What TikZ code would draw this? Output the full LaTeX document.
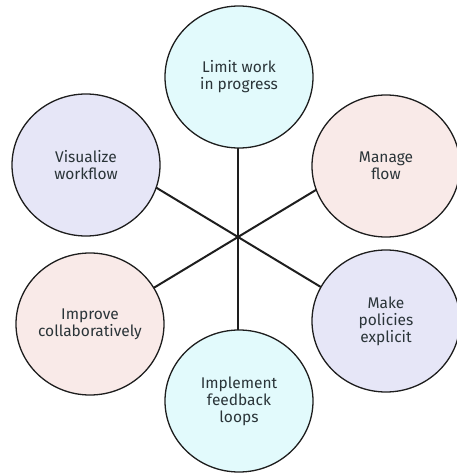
\documentclass[tikz,border=0pt]{standalone}
\usepackage{fontspec}
\setmainfont{Fira Sans}
\usetikzlibrary{shapes.geometric}
\definecolor{cyanfill}{HTML}{E2FAFC}
\definecolor{lavfill}{HTML}{E6E6F7}
\definecolor{pinkfill}{HTML}{F9EAE8}
\definecolor{inkline}{HTML}{1E1E1E}
\definecolor{inktext}{HTML}{2A3438}
\tikzset{
  bubble/.style={ellipse, draw=inkline, line width=1.3pt, minimum width=148pt, minimum height=142pt,
    inner sep=0pt, align=center, text=inktext, font=\fontsize{15.5}{17}\selectfont},
  spoke/.style={draw=inkline, line width=2pt}
}
\begin{document}
\begin{tikzpicture}[x=1pt,y=-1pt]
\useasboundingbox (0,0) rectangle (456,474);
\coordinate (hub) at (238,237);
\coordinate (eTop) at (238,107);
\coordinate (eBot) at (238,367);
\coordinate (eUL) at (127,170);
\coordinate (eUR) at (349,170);
\coordinate (eLL) at (127,304);
\coordinate (eLR) at (349,304);
\draw[spoke] (hub) -- (eTop);
\draw[spoke] (hub) -- (eBot);
\draw[spoke] (hub) -- (eUL);
\draw[spoke] (hub) -- (eUR);
\draw[spoke] (hub) -- (eLL);
\draw[spoke] (hub) -- (eLR);
\node[bubble, fill=cyanfill] (wip) at (239,77) {Limit work\\in progress};
\node[bubble, fill=lavfill] (vis) at (86,165) {Visualize\\workflow};
\node[bubble, fill=pinkfill] (flow) at (386,166) {Manage\\flow};
\node[bubble, fill=pinkfill] (imp) at (90,324) {Improve\\collaboratively};
\node[bubble, fill=lavfill] (pol) at (386,321) {Make\\policies\\explicit};
\node[bubble, fill=cyanfill] (fb) at (239,401) {Implement\\feedback\\loops};
\end{tikzpicture}
\end{document}
